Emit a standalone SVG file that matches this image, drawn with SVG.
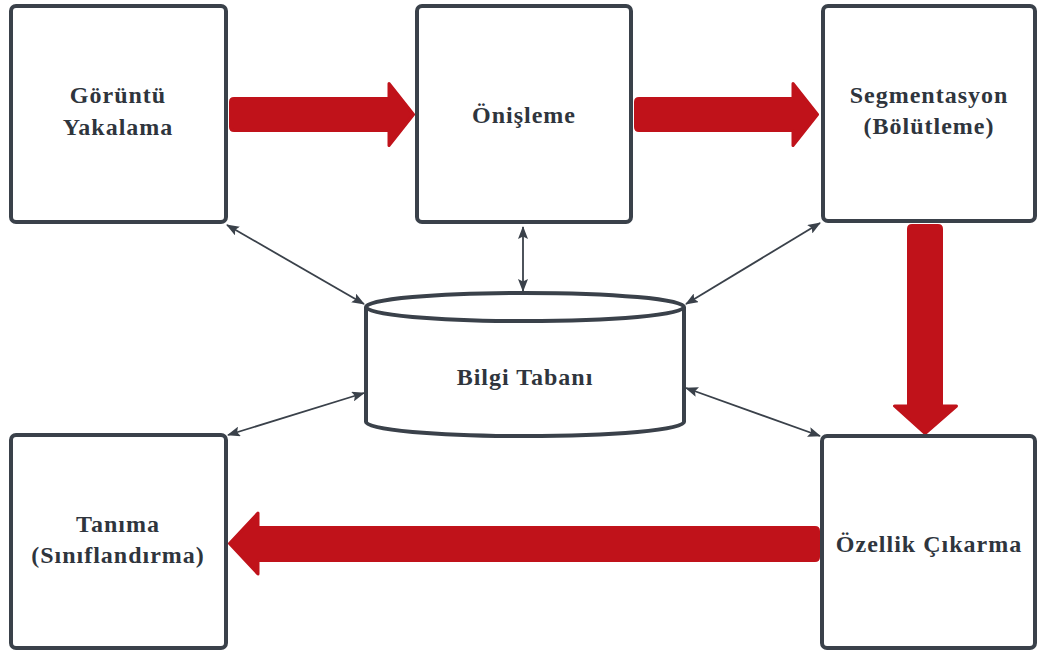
<svg xmlns="http://www.w3.org/2000/svg" width="1038" height="652" viewBox="0 0 1038 652">
<defs>
<style>
.box{fill:#fff;stroke:#3a414a;stroke-width:4}
.lbl{font-family:"Liberation Serif",serif;font-weight:bold;font-size:24px;fill:#2f353d;text-anchor:middle;letter-spacing:1px}
.big{fill:#c0121a;stroke:#c0121a;stroke-width:3;stroke-linejoin:round}
.thin{stroke:#3a414a;stroke-width:1.8;fill:none;marker-start:url(#ah);marker-end:url(#ah)}
</style>
<marker id="ah" viewBox="0 0 13 10" refX="12" refY="5" markerWidth="13" markerHeight="10" markerUnits="userSpaceOnUse" orient="auto-start-reverse">
<path d="M0,0 L13,5 L0,10 L2.5,5 Z" fill="#3a414a"/>
</marker>
</defs>
<rect width="1038" height="652" fill="#fff"/>
<g id="connectors">
<path class="big" d="M234,98.5 L389,98.5 L389,83.5 L413.5,114.5 L389,145.5 L389,130.5 L234,130.5 Q230.5,130.5 230.5,127 L230.5,102 Q230.5,98.5 234,98.5 Z"/>
<path class="big" d="M639,98.5 L793,98.5 L793,83.5 L817.5,114.5 L793,145.5 L793,130.5 L639,130.5 Q635.5,130.5 635.5,127 L635.5,102 Q635.5,98.5 639,98.5 Z"/>
<path class="big" d="M908.5,229 Q908.5,225.5 912,225.5 L938,225.5 Q941.5,225.5 941.5,229 L941.5,406 L956.5,406 L925,433.5 L894.5,406 L908.5,406 Z"/>
<path class="big" d="M815,527.5 Q818.5,527.5 818.5,531 L818.5,557 Q818.5,560.5 815,560.5 L258,560.5 L258,574 L229.5,543.5 L258,513 L258,527.5 Z"/>
<line class="thin" x1="227" y1="225" x2="364" y2="304"/>
<line class="thin" x1="523" y1="227" x2="523" y2="291"/>
<line class="thin" x1="820" y1="223" x2="686" y2="304"/>
<line class="thin" x1="228" y1="435" x2="364" y2="393"/>
<line class="thin" x1="820" y1="436" x2="686" y2="388"/>
</g>
<g id="node-goruntu">
<rect class="box" x="11" y="6" width="215" height="216" rx="5"/>
<text class="lbl" x="118" y="103">Görüntü</text>
<text class="lbl" x="118" y="135">Yakalama</text>
</g>
<g id="node-onisleme">
<rect class="box" x="417" y="6" width="214" height="216" rx="5"/>
<text class="lbl" x="524" y="123">Önişleme</text>
</g>
<g id="node-segmentasyon">
<rect class="box" x="823" y="6" width="212" height="215" rx="5"/>
<text class="lbl" x="929" y="103">Segmentasyon</text>
<text class="lbl" x="929" y="134">(Bölütleme)</text>
</g>
<g id="node-bilgi">
<path class="box" d="M366,307 L366,422 A159,14 0 0 0 684,422 L684,307"/>
<ellipse class="box" cx="525" cy="307" rx="159" ry="14"/>
<text class="lbl" x="525" y="385">Bilgi Tabanı</text>
</g>
<g id="node-tanima">
<rect class="box" x="11" y="435" width="215" height="213" rx="5"/>
<text class="lbl" x="118" y="532">Tanıma</text>
<text class="lbl" x="118" y="563">(Sınıflandırma)</text>
</g>
<g id="node-ozellik">
<rect class="box" x="822" y="436" width="213" height="212" rx="5"/>
<text class="lbl" x="929" y="552">Özellik Çıkarma</text>
</g>
</svg>
